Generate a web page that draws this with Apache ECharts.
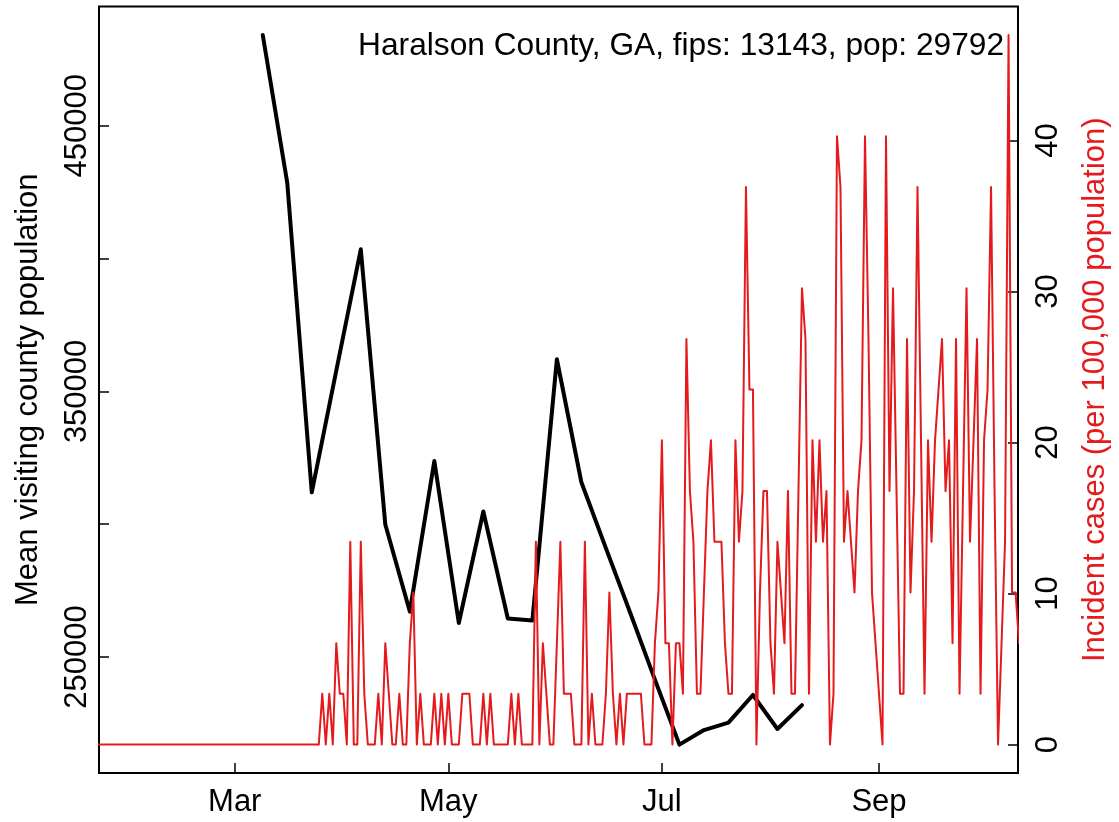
<!DOCTYPE html>
<html>
<head>
<meta charset="utf-8">
<script src="https://cdn.jsdelivr.net/npm/echarts@6/dist/echarts.min.js"></script>
<style>
html,body{margin:0;padding:0;background:#fff;}
#chart{width:1119px;height:822px;}
</style>
</head>
<body>
<div id="chart"></div>
<script>
// ---------------- data ----------------
const titleText = 'Haralson County, GA, fips: 13143, pop: 29792';
const leftAxisName = 'Mean visiting county population';
const rightAxisName = 'Incident cases (per 100,000 population)';

// daily incident cases per 100,000, starting 2020-01-22
const incidenceStart = '2020-01-22';
const incidence = [
0,0,0,0,0,0,0,0,0,0, 0,0,0,0,0,0,0,0,0,0,
0,0,0,0,0,0,0,0,0,0, 0,0,0,0,0,0,0,0,0,0,
0,0,0,0,0,0,0,0,0,0, 0,0,0,0,0,0,0,0,0,0,
0,0,0,0,3.36,0,3.36,0,6.71,3.36,
3.36,0,13.43,0,0,13.43,3.36,0,0,0,
3.36,0,6.71,3.36,0,0,3.36,0,0,6.71,
10.07,0,3.36,0,0,0,3.36,0,3.36,0,
3.36,0,0,0,3.36,3.36,3.36,0,0,0,
3.36,0,3.36,0,0,0,0,0,3.36,0,
3.36,0,0,0,0,13.43,0,6.71,3.36,0,
0,6.71,13.43,3.36,3.36,3.36,0,0,0,13.43,
0,3.36,0,0,0,3.36,10.07,3.36,0,3.36,
0,3.36,3.36,3.36,3.36,3.36,0,0,0,6.71,
10.07,20.14,6.71,6.71,0,6.71,6.71,3.36,26.85,16.78,
13.43,3.36,3.36,10.07,16.78,20.14,13.43,13.43,13.43,6.71,
3.36,3.36,20.14,13.43,16.78,36.92,23.50,23.50,0,10.07,
16.78,16.78,6.71,3.36,13.43,10.07,6.71,16.78,3.36,3.36,
16.78,30.21,26.85,3.36,20.14,13.43,20.14,13.43,16.78,0,
3.36,40.28,36.92,13.43,16.78,13.43,10.07,16.78,20.14,40.28,
26.85,10.07,6.71,3.36,0,40.28,16.78,30.21,16.78,3.36,
3.36,26.85,10.07,16.78,36.92,20.14,3.36,20.14,13.43,20.14,
23.50,26.85,16.78,20.14,6.71,26.85,3.36,16.78,30.21,13.43,
20.14,26.85,3.36,20.14,23.50,36.92,16.78,0,6.71,13.43,
46.99,10.07,10.07,6.71
];

// weekly mean visiting county population
const mobilityDates = [
'2020-03-09','2020-03-16','2020-03-23','2020-03-30','2020-04-06','2020-04-13',
'2020-04-20','2020-04-27','2020-05-04','2020-05-11','2020-05-18','2020-05-25',
'2020-06-01','2020-06-08','2020-06-15','2020-06-22','2020-06-29','2020-07-06',
'2020-07-13','2020-07-20','2020-07-27','2020-08-03','2020-08-10'
];
const mobility = [
484200,428500,312000,357800,403500,299900,
267100,323800,262800,304800,264500,263700,
362100,315800,291000,266500,241500,217000,
222500,225300,235700,222900,231900
];

const xTickDates = ['2020-03-01','2020-05-01','2020-07-01','2020-09-01'];
const xTickLabels = ['Mar','May','Jul','Sep'];
const leftTicks = [250000,300000,350000,400000,450000];
const leftLabels = [250000,350000,450000];
const rightTicks = [0,10,20,30,40];

// ---------------- chart ----------------
const DAY = 86400000;
const t0 = Date.parse(incidenceStart);
const dayOf = (s)=>Math.round((Date.parse(s)-t0)/DAY);   // days since start date
const redData = incidence.map((v,i)=>[i, v]);
const blackData = mobility.map((v,i)=>[dayOf(mobilityDates[i]), v]);
const xTickVals = xTickDates.map(dayOf);

const FONT = '"Liberation Sans", Arial, Helvetica, sans-serif';
const RED = '#E41A1C';
const FS = 31;

const chart = echarts.init(document.getElementById('chart'), null, {renderer:'canvas'});
chart.setOption({
  animation:false,
  backgroundColor:'#ffffff',
  textStyle:{fontFamily:FONT},
  grid:{left:99, right:98.3, top:6.5, bottom:49.1, show:true, borderColor:'#000', borderWidth:2, containLabel:false},
  xAxis:{
    type:'value',
    min:0.23, max:262.7,
    axisLine:{show:false, onZero:false},
    splitLine:{show:false},
    axisTick:{show:true, inside:true, length:10, customValues:xTickVals, lineStyle:{color:'#000', width:1.5}},
    axisLabel:{show:true, customValues:xTickVals, margin:14, fontSize:FS, color:'#000', fontFamily:FONT,
      formatter:(v)=>{const i=xTickVals.indexOf(Math.round(v)); return i>=0?xTickLabels[i]:'';}},
  },
  yAxis:[
    {
      type:'value', position:'left', min:206363, max:494917,
      name:leftAxisName, nameLocation:'middle', nameRotate:90, nameGap:55,
      nameTextStyle:{fontSize:FS, color:'#000', fontFamily:FONT},
      axisLine:{show:false, onZero:false}, splitLine:{show:false},
      axisTick:{show:true, inside:true, length:10, customValues:leftTicks, lineStyle:{color:'#000', width:1.5}},
      axisLabel:{show:true, customValues:leftLabels, rotate:90, margin:6, fontSize:FS, color:'#000', fontFamily:FONT,
        formatter:(v)=>String(Math.round(v))},
    },
    {
      type:'value', position:'right', min:-1.88, max:48.87,
      name:rightAxisName, nameLocation:'middle', nameRotate:90, nameGap:62,
      nameTextStyle:{fontSize:FS, color:RED, fontFamily:FONT},
      axisLine:{show:false, onZero:false}, splitLine:{show:false},
      axisTick:{show:true, inside:true, length:10, customValues:rightTicks, lineStyle:{color:'#000', width:1.5}},
      axisLabel:{show:true, customValues:rightTicks, rotate:90, margin:15, fontSize:FS, color:'#000', fontFamily:FONT,
        formatter:(v)=>String(Math.round(v))},
    }
  ],
  graphic:[{
    type:'text', x:1004, y:46,
    style:{text:titleText, textAlign:'right', textVerticalAlign:'middle', fontSize:31.7, fill:'#000', fontFamily:FONT}
  }],
  series:[
    {type:'line', name:leftAxisName, yAxisIndex:0, data:blackData, showSymbol:false, symbol:'none',
     lineStyle:{color:'#000', width:4, join:'round', cap:'round'}, z:2},
    {type:'line', name:rightAxisName, yAxisIndex:1, data:redData, showSymbol:false, symbol:'none',
     lineStyle:{color:RED, width:2, join:'round', cap:'round'}, z:3}
  ]
});
</script>
</body>
</html>
